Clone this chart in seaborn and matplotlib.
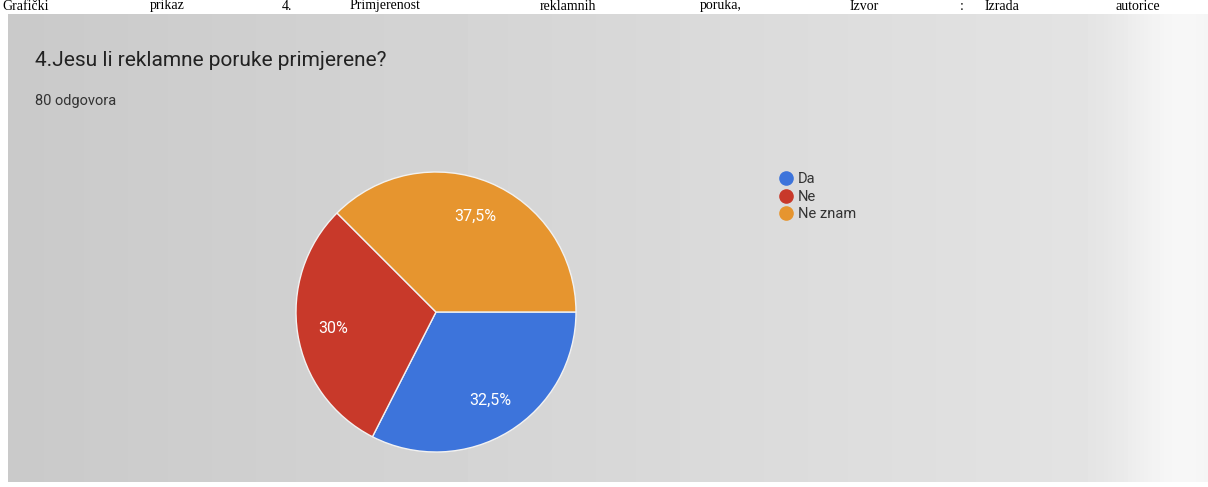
import numpy as np
import matplotlib
matplotlib.use("Agg")
import matplotlib.pyplot as plt
from matplotlib.lines import Line2D
import seaborn as sns

# data
odgovori = ["Da", "Ne", "Ne znam"]
postotci = [32.5, 30.0, 37.5]
boje = ["#3d74db", "#c8392a", "#e6952f"]

naslov = "4.Jesu li reklamne poruke primjerene?"
broj_odgovora = "80 odgovora"
opis_rijeci = ["Grafički", "prikaz", "4.", "Primjerenost", "reklamnih",
               "poruka,", "Izvor", ":", "Izrada", "autorice"]

sns.set_theme(style="white")
plt.rcParams["font.family"] = ["Roboto", "DejaVu Sans"]

W, H = 1208, 487
fig = plt.figure(figsize=(W / 100, H / 100), dpi=100)
fig.patch.set_facecolor("white")

# photographed screen background (gray, lighter towards the right)
bg = fig.add_axes([8 / W, 5 / H, 1 - 8 / W, (482 - 14) / H])
grad = np.linspace(0, 1, 300)
tone = 0.79 + 0.11 * grad + 0.07 * np.exp(-((grad - 0.98) / 0.05) ** 2)
img = np.tile(tone, (50, 1))
bg.imshow(img, cmap="gray", vmin=0, vmax=1, aspect="auto",
          extent=[0, 1, 0, 1])
bg.set_axis_off()

# caption line above the photo (justified across the width)
xpos = [2, 150, 282, 350, 540, 700, 850, 960, 985, 1115]
for w, x in zip(opis_rijeci, xpos):
    fig.text(x / W, 1 - 6 / H, w, family="Liberation Serif", fontsize=10,
             ha="left", va="center", color="black")

fig.text(35 / W, 1 - 60 / H, naslov, fontsize=15, color="#222222",
         ha="left", va="center")
fig.text(35 / W, 1 - 101 / H, broj_odgovora, fontsize=10.5, color="#333333",
         ha="left", va="center")

# pie
cx, cy, r = 436, 312, 140
ax = fig.add_axes([(cx - r) / W, (H - cy - r) / H, 2 * r / W, 2 * r / H])
wedges, texts, autotexts = ax.pie(
    postotci, colors=boje, startangle=0, counterclock=False,
    autopct=lambda p: (f"{p:.1f}".rstrip("0").rstrip(".") + "%").replace(".", ","),
    pctdistance=0.74, wedgeprops=dict(edgecolor="#f2f2f2", linewidth=1),
    textprops=dict(color="white", fontsize=11.5))
ax.set_xlim(-1, 1)
ax.set_ylim(-1, 1)
ax.set_aspect("equal")
ax.set_axis_off()

# legend with round markers
handles = [Line2D([], [], marker="o", linestyle="", markersize=9.5, color=c)
           for c in boje]
fig.legend(handles, odgovori, loc="upper left",
           bbox_to_anchor=(780 / W, 1 - 172 / H), frameon=False,
           fontsize=10.5, handlelength=0.8, handletextpad=0.4,
           labelspacing=0.25, borderpad=0, borderaxespad=0,
           labelcolor="#333333")

fig.savefig("out.png", dpi=100)
